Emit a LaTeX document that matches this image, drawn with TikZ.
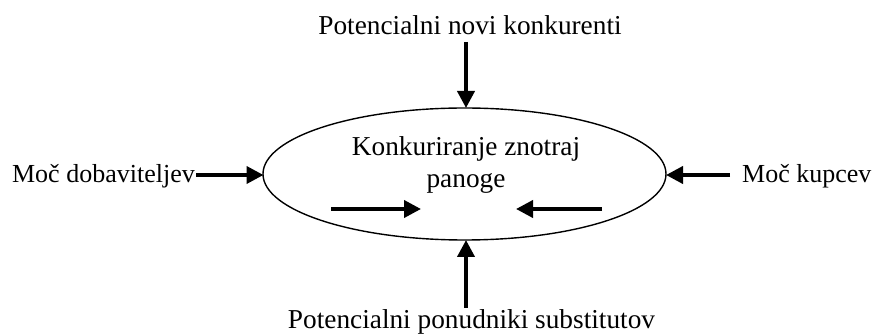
\documentclass[tikz,border=0pt]{standalone}
\usepackage{fontspec}
\setmainfont{Liberation Serif}
\usetikzlibrary{arrows.meta,shapes.geometric}
\begin{document}
\begin{tikzpicture}[x=1pt,y=-1pt,
  force/.style={line width=3.8pt,-{Triangle[length=17pt,width=17pt]}},
  lbl/.style={inner sep=0pt,font=\fontsize{27.3}{32}\selectfont},
  sidelbl/.style={inner sep=0pt,font=\fontsize{26}{30}\selectfont},
  arena/.style={ellipse,draw,line width=1.4pt,minimum width=403pt,minimum height=132pt,inner sep=0pt}]
\useasboundingbox (0,0) rectangle (875,336);
% central ellipse: rivalry within the industry
\node[arena] (core) at (464.5,174) {};
\node[lbl,align=center] (coretext) at (466,165) {Konkuriranje znotraj\\panoge};
% the five forces labels
\node[lbl,anchor=base] (entrants) at (470,35) {Potencialni novi konkurenti};
\node[sidelbl,anchor=base east] (suppliers) at (195,183) {Moč dobaviteljev};
\node[sidelbl,anchor=base west] (buyers) at (742,183) {Moč kupcev};
\node[lbl,anchor=base] (substitutes) at (471.5,329) {Potencialni ponudniki substitutov};
% anchor points for the arrows
\coordinate (topin) at (466,108);
\coordinate (botin) at (466,240);
\coordinate (leftin) at (263.5,175);
\coordinate (rightin) at (666,175);
\coordinate (topout) at (466,42);
\coordinate (botout) at (466,308);
\coordinate (suptail) at (196,175);
\coordinate (buytail) at (730,175);
\coordinate (iltail) at (331,209);
\coordinate (iltip) at (421,209);
\coordinate (irtail) at (602,209);
\coordinate (irtip) at (516,209);
\draw[force] (topout) -- (topin);
\draw[force] (botout) -- (botin);
\draw[force] (suptail) -- (leftin);
\draw[force] (buytail) -- (rightin);
\draw[force] (iltail) -- (iltip);
\draw[force] (irtail) -- (irtip);
\end{tikzpicture}
\end{document}
